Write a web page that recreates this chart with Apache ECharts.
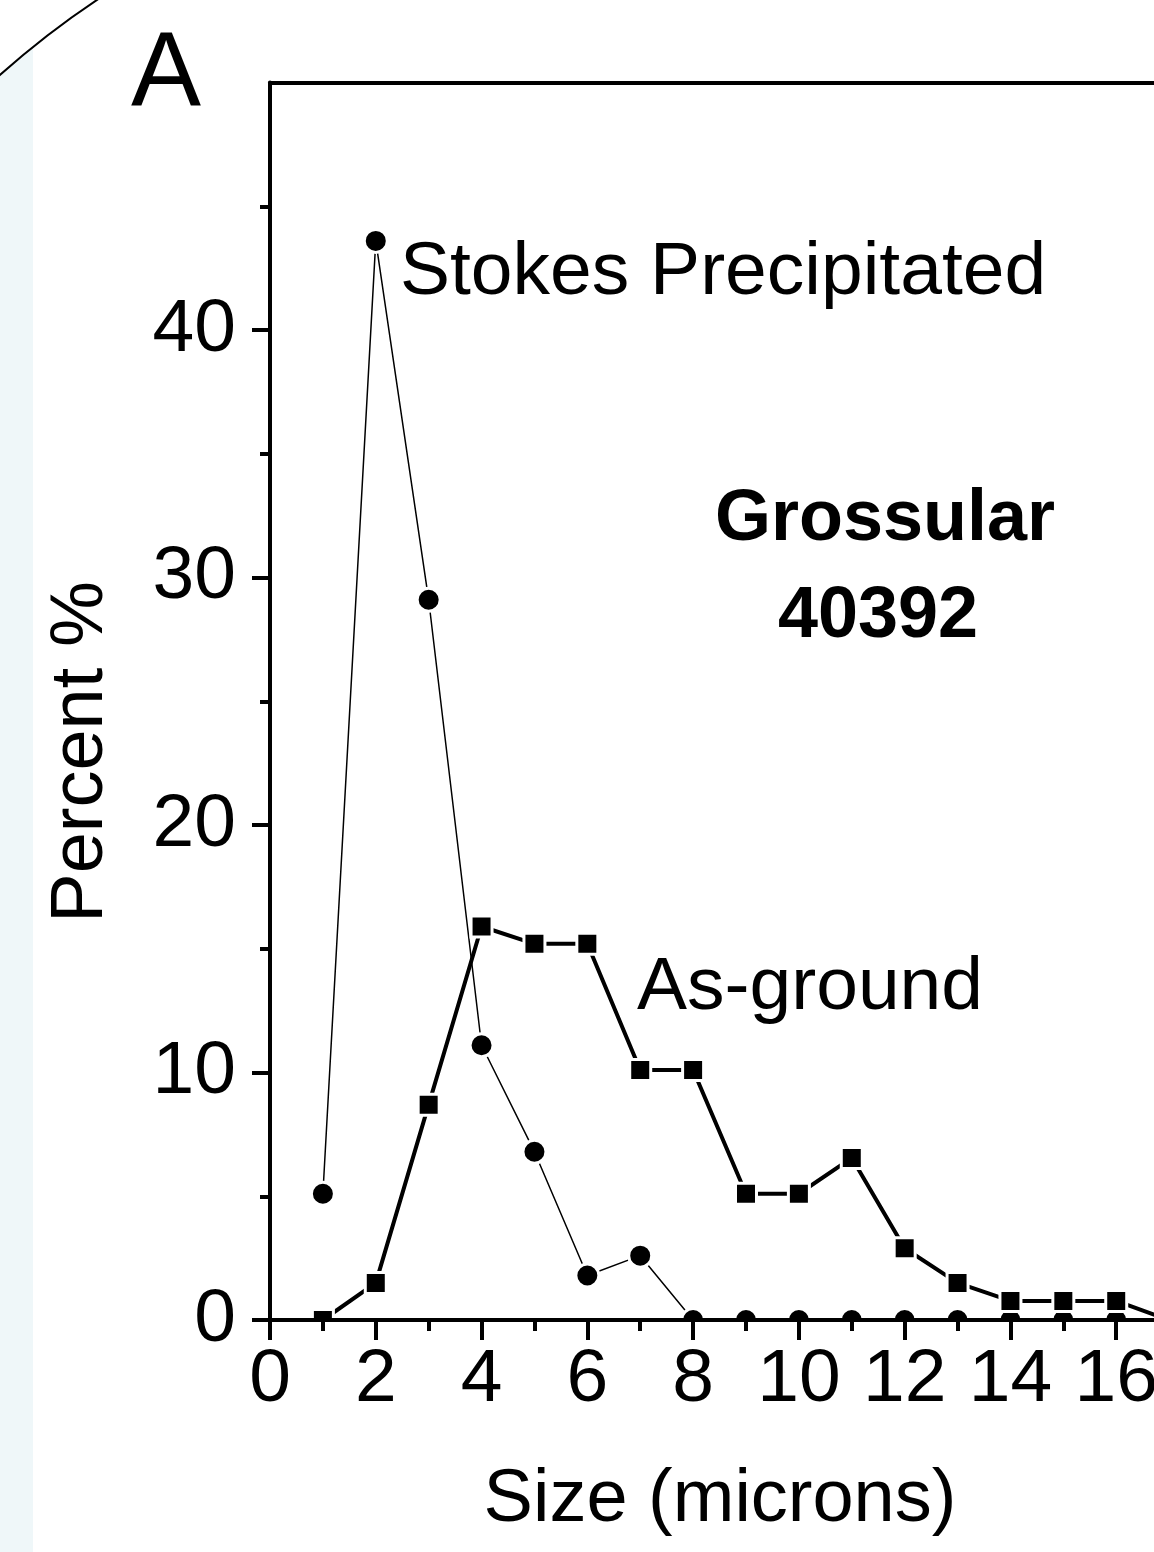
<!DOCTYPE html>
<html>
<head>
<meta charset="utf-8">
<script src="https://cdn.jsdelivr.net/npm/echarts@6/dist/echarts.min.js"></script>
<style>
  html, body { margin: 0; padding: 0; background: #fff; }
  #grossular { width: 1154px; height: 1552px; }
</style>
</head>
<body>
<div id="grossular"></div>
<script>
// particle size (microns)
var sizes = [1, 2, 3, 4, 5, 6, 7, 8, 9, 10, 11, 12, 13, 14, 15, 16, 17];
// percent
var stokesPrecipitated = [5.1, 43.6, 29.1, 11.1, 6.8, 1.8, 2.6, 0, 0, 0, 0, 0, 0, 0, 0, 0, 0];
var asGround = [0, 1.5, 8.7, 15.9, 15.2, 15.2, 10.1, 10.1, 5.1, 5.1, 6.55, 2.9, 1.5, 0.77, 0.77, 0.77, 0];
var yTickValues = [0, 10, 20, 30, 40];

var font = "'Liberation Sans', Arial, sans-serif";
var chart = echarts.init(document.getElementById('grossular'));

function pairs(xs, ys) {
  return xs.map(function (x, i) { return [x, ys[i]]; });
}

// light blue strip on the left, its top follows the big arc
var arcC = [582, 727], arcR = 874;
var strip = [];
for (var x = 0; x <= 33; x += 3) {
  strip.push([x, arcC[1] - Math.sqrt(arcR * arcR - (x - arcC[0]) * (x - arcC[0]))]);
}
strip.push([33, 1552], [0, 1552]);

var option = {
  animation: false,
  grid: { left: 270, right: -68, top: 82.5, bottom: 232, containLabel: false, outerBoundsMode: 'none' },
  xAxis: [{
    type: 'value',
    min: 0,
    max: 18,
    interval: 2,
    z: 10,
    splitLine: { show: false },
    axisLine: { onZero: false, lineStyle: { color: '#000', width: 4 } },
    axisTick: { inside: false, length: 20, lineStyle: { color: '#000', width: 4 } },
    minorTick: { show: true, splitNumber: 2, length: 11, lineStyle: { color: '#000', width: 4 } },
    axisLabel: { margin: 23, color: '#000', fontSize: 75, fontFamily: font }
  }, {
    type: 'value',
    position: 'top',
    min: 0,
    max: 18,
    z: 10,
    splitLine: { show: false },
    axisLine: { show: true, onZero: false, lineStyle: { color: '#000', width: 4 } },
    axisTick: { show: false },
    axisLabel: { show: false }
  }],
  yAxis: {
    type: 'value',
    min: 0,
    max: 50,
    interval: 10,
    z: 10,
    splitLine: { show: false },
    axisLine: { show: true, onZero: false, lineStyle: { color: '#000', width: 4 } },
    axisTick: { length: 18, customValues: yTickValues, lineStyle: { color: '#000', width: 4 } },
    minorTick: { show: true, splitNumber: 2, length: 10, lineStyle: { color: '#000', width: 4 } },
    axisLabel: { margin: 34, color: '#000', fontSize: 75, fontFamily: font, customValues: yTickValues }
  },
  series: [{
    name: 'Stokes Precipitated',
    type: 'line',
    data: pairs(sizes, stokesPrecipitated),
    symbol: 'circle',
    symbolSize: 23,
    lineStyle: { color: '#000', width: 1.5 },
    itemStyle: { color: '#000', borderColor: '#fff', borderWidth: 3 }
  }, {
    name: 'As-ground',
    type: 'line',
    data: pairs(sizes, asGround),
    symbol: 'rect',
    symbolSize: 21,
    lineStyle: { color: '#000', width: 4 },
    itemStyle: { color: '#000', borderColor: '#fff', borderWidth: 3 }
  }],
  graphic: [
    { type: 'polygon', z: 1, shape: { points: strip }, style: { fill: '#eff7f9' } },
    { type: 'arc', z: 1, shape: { cx: arcC[0], cy: arcC[1], r: arcR, startAngle: -2.32, endAngle: -2.14 },
      style: { stroke: '#000', lineWidth: 2, fill: null } },
    // hides the part of markers below the x axis
    { type: 'rect', z: 5, shape: { x: 272, y: 1322, width: 900, height: 240 }, style: { fill: '#fff' } },
    { type: 'text', z: 20, style: { text: 'A', x: 166, y: 76, align: 'center', verticalAlign: 'middle', fontSize: 105, fontFamily: font, fill: '#000' } },
    { type: 'text', z: 20, rotation: Math.PI / 2, x: 82, y: 752,
      style: { text: 'Percent %', x: 0, y: 0, align: 'center', verticalAlign: 'middle', fontSize: 74, fontFamily: font, fill: '#000' } },
    { type: 'text', z: 20, style: { text: 'Size (microns)', x: 720, y: 1501, align: 'center', verticalAlign: 'middle', fontSize: 74, fontFamily: font, fill: '#000' } },
    { type: 'text', z: 20, style: { text: 'Stokes Precipitated', x: 400, y: 273, align: 'left', verticalAlign: 'middle', fontSize: 75, fontFamily: font, fill: '#000' } },
    { type: 'text', z: 20, style: { text: 'Grossular', x: 885, y: 520, align: 'center', verticalAlign: 'middle', fontSize: 72, fontWeight: 'bold', fontFamily: font, fill: '#000' } },
    { type: 'text', z: 20, style: { text: '40392', x: 878, y: 617, align: 'center', verticalAlign: 'middle', fontSize: 72, fontWeight: 'bold', fontFamily: font, fill: '#000' } },
    { type: 'text', z: 20, style: { text: 'As-ground', x: 637, y: 988, align: 'left', verticalAlign: 'middle', fontSize: 75, fontFamily: font, fill: '#000' } }
  ]
};

chart.setOption(option);
</script>
</body>
</html>
